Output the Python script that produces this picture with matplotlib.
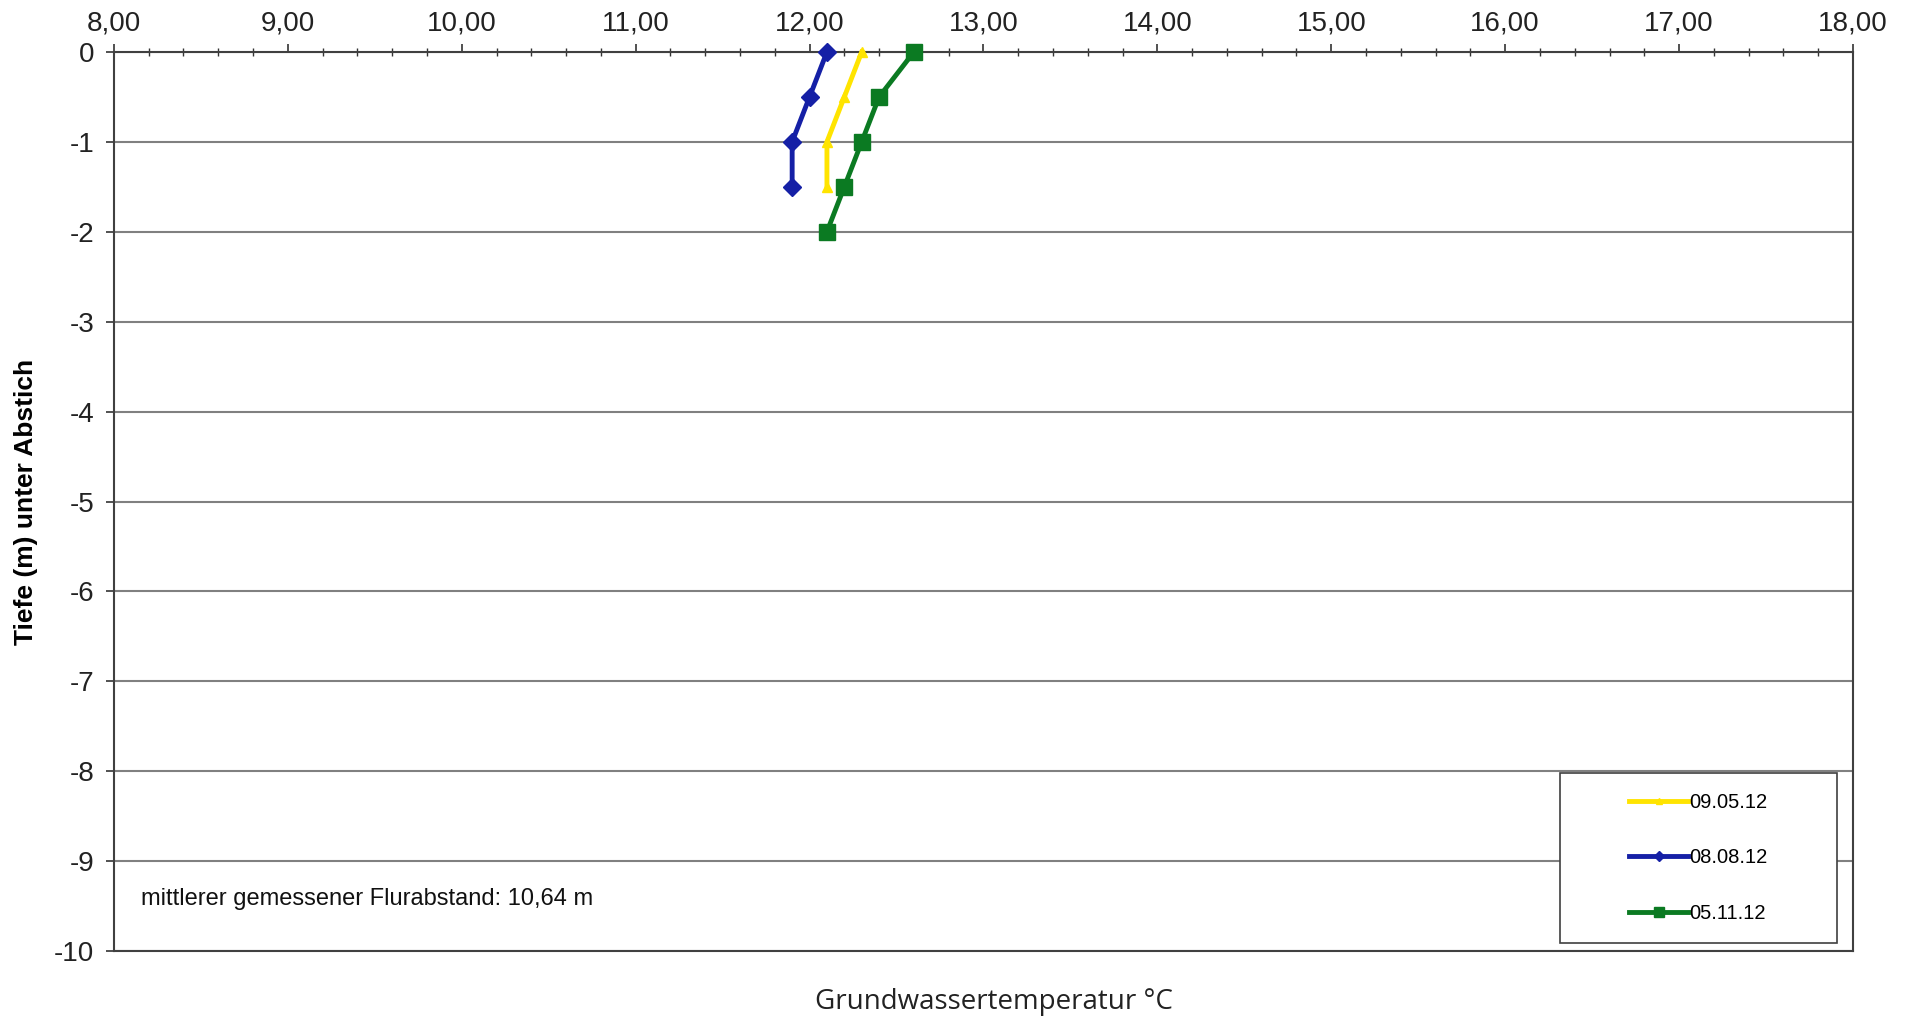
import numpy as np
import matplotlib.pyplot as plt
from matplotlib.patches import Rectangle
from matplotlib.ticker import MultipleLocator, FuncFormatter

plt.rcParams['font.family'] = ['Liberation Sans', 'DejaVu Sans']
plt.rcParams['axes.unicode_minus'] = False

# Messwerte (Temperatur in °C, Tiefe in m)
labels = ['09.05.12', '08.08.12', '05.11.12']
temp_0905 = [12.3, 12.2, 12.1, 12.1]
depth_0905 = [0, -0.5, -1.0, -1.5]
temp_0808 = [12.1, 12.0, 11.9, 11.9]
depth_0808 = [0, -0.5, -1.0, -1.5]
temp_0511 = [12.6, 12.4, 12.3, 12.2, 12.1]
depth_0511 = [0, -0.5, -1.0, -1.5, -2.0]

x_ticks = [8, 9, 10, 11, 12, 13, 14, 15, 16, 17, 18]
y_ticks = [0, -1, -2, -3, -4, -5, -6, -7, -8, -9, -10]

fig = plt.figure(figsize=(19.05, 10.19), dpi=100)
ax = fig.add_axes([0.0598, 0.0667, 0.9129, 0.8823])

for y in y_ticks:
    ax.axhline(y, color='#808080', lw=1.5, zorder=1)

ax.plot(temp_0905, depth_0905, color='#ffe400', lw=3.5, marker='^', ms=7,
        label=labels[0], zorder=3, clip_on=False)
ax.plot(temp_0808, depth_0808, color='#1520a6', lw=3.5, marker='D', ms=9,
        label=labels[1], zorder=3, clip_on=False)
ax.plot(temp_0511, depth_0511, color='#0b7a22', lw=3.5, marker='s', ms=11,
        label=labels[2], zorder=3, clip_on=False)

ax.set_xlim(8, 18)
ax.set_ylim(-10, 0)
ax.xaxis.tick_top()
ax.set_xticks(x_ticks)
ax.xaxis.set_minor_locator(MultipleLocator(0.2))
ax.xaxis.set_major_formatter(FuncFormatter(lambda v, p: f'{v:.2f}'.replace('.', ',')))
ax.set_yticks(y_ticks)
ax.yaxis.set_major_formatter(FuncFormatter(lambda v, p: f'{int(round(v))}'))
ax.tick_params(axis='x', which='major', direction='out', length=6, width=1.2,
               labelsize=20, pad=5, colors='#333333', labelcolor='#222222')
ax.tick_params(axis='x', which='minor', direction='inout', length=6, width=1,
               colors='#333333')
ax.tick_params(axis='y', direction='out', length=6, width=1.2, labelsize=20,
               pad=8, colors='#333333', labelcolor='#222222')
for s in ax.spines.values():
    s.set_color('#404040')
    s.set_linewidth(1.5)

ax.set_ylabel('Tiefe (m) unter Abstich', fontsize=19, fontweight='bold',
              labelpad=12)
fig.text(0.522, 0.017, 'Grundwassertemperatur °C', fontsize=20,
         ha='center', va='center', family=['Open Sans', 'DejaVu Sans'],
         color='#222222')

ax.text(8.155, -9.42, 'mittlerer gemessener Flurabstand: 10,64 m',
        fontsize=17, va='center', ha='left', color='#111111')

# Legendenrahmen
ax.add_patch(Rectangle((0.8315, 0.009), 0.1595, 0.189, transform=ax.transAxes,
                       facecolor='white', edgecolor='#404040', lw=1.2, zorder=4))
leg = ax.legend(loc='center', bbox_to_anchor=(0.8315, 0.009, 0.1595, 0.189),
                frameon=False, fontsize=14.5, handlelength=2.9, handletextpad=0.1,
                labelspacing=1.8, markerscale=0.6)
leg.set_zorder(5)

fig.savefig('out.png', dpi=100, facecolor='white')
